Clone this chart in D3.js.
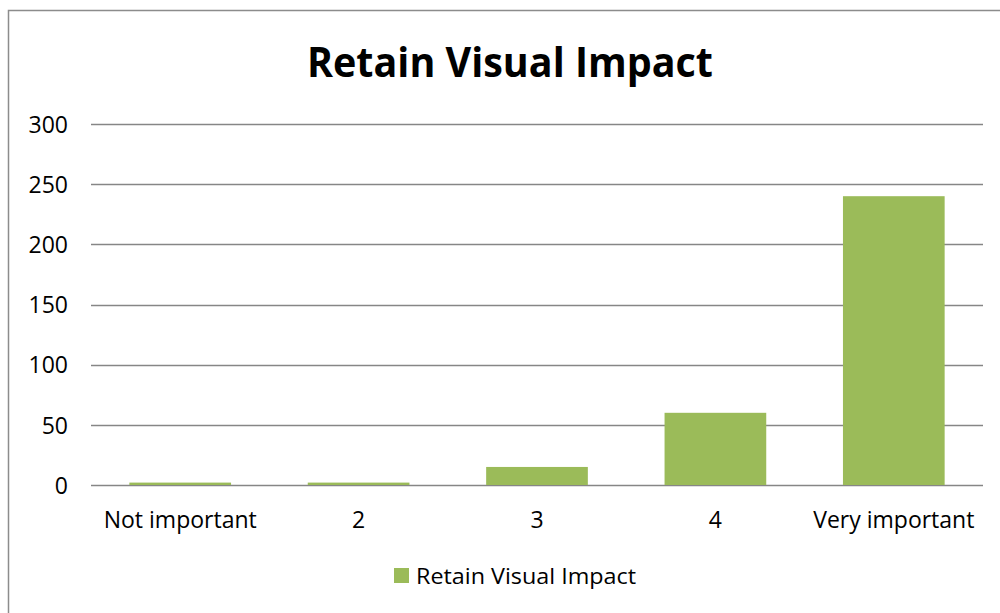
<!DOCTYPE html>
<html><head><meta charset="utf-8">
<script src="https://cdn.jsdelivr.net/npm/d3@7"></script>
<style>body{margin:0;background:#fff}svg{display:block}text{font-family:"Open Sans",sans-serif;fill:#000}</style>
</head><body><svg id="c" width="1000" height="613"></svg>
<script>
const title = "Retain Visual Impact";
const categories = ["Not important", "2", "3", "4", "Very important"];
const values = [2, 2, 15, 60, 240];
const yTicks = [0, 50, 100, 150, 200, 250, 300];
const seriesName = "Retain Visual Impact";

const svg = d3.select("#c");
svg.append("rect").attr("x", 8.5).attr("y", 10.5).attr("width", 1000).attr("height", 700)
  .attr("fill", "#fff").attr("stroke", "#8c8c8c").attr("stroke-width", 1.5);

const x = d3.scaleBand().domain(categories).range([91, 983]).paddingInner(0.43).paddingOuter(0.215);
const y = d3.scaleLinear().domain([0, 300]).range([485, 124]);

const fitText = (sel, w) => { sel.attr("textLength", w).attr("lengthAdjust","spacingAndGlyphs"); };

// gridlines
svg.append("g").selectAll("line").data(yTicks).join("line")
  .attr("x1", 91).attr("x2", 983).attr("y1", d => Math.round(y(d)) + 0.5).attr("y2", d => Math.round(y(d)) + 0.5)
  .attr("stroke", "#868686").attr("stroke-width", 1.5);

// y labels
const yAxis = d3.axisLeft(y).tickValues(yTicks).tickSize(0).tickPadding(0);
const gy = svg.append("g").attr("transform", "translate(68,0)").call(yAxis);
gy.select(".domain").remove();
gy.selectAll("text").attr("font-size", 23).attr("font-family", "Open Sans, sans-serif").attr("fill", "#000").attr("dy", "0.36em");

// bars
svg.append("g").selectAll("rect").data(values).join("rect")
  .attr("x", (d, i) => x(categories[i])).attr("width", x.bandwidth())
  .attr("y", d => y(d)).attr("height", d => y(0) - y(d)).attr("fill", "#9bbb59");

// x labels
const xAxis = d3.axisBottom(x).tickSize(0).tickPadding(0);
const gx = svg.append("g").attr("transform", "translate(0,528)").call(xAxis);
gx.select(".domain").remove();
gx.selectAll("text").attr("font-size", 23).attr("font-family", "Open Sans, sans-serif").attr("fill", "#000").attr("dy", 0).attr("y", 0);

// title
const t = svg.append("text").attr("x", 510).attr("y", 77).attr("text-anchor", "middle")
  .attr("font-size", 42).attr("font-weight", "bold").text(title);
fitText(t, 406);

// legend
svg.append("rect").attr("x", 394).attr("y", 568).attr("width", 15).attr("height", 15).attr("fill", "#9bbb59");
const lt = svg.append("text").attr("x", 416).attr("y", 584).attr("font-size", 22).text(seriesName);
fitText(lt, 220);
</script></body></html>
